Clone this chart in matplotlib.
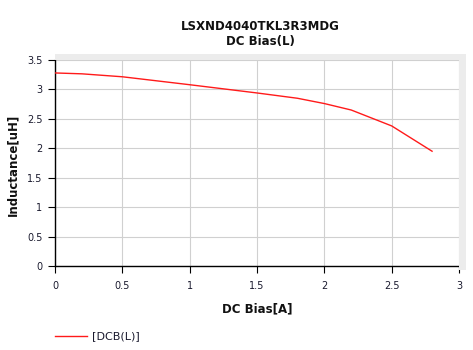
import matplotlib
matplotlib.use("Agg")
import matplotlib.pyplot as plt
from matplotlib.patches import Rectangle
from matplotlib.lines import Line2D

current = [0.0, 0.2, 0.5, 1.0, 1.5, 1.8, 2.0, 2.2, 2.5, 2.8]
inductance = [3.28, 3.265, 3.215, 3.08, 2.94, 2.85, 2.76, 2.65, 2.38, 1.95]
xticks = [0, 0.5, 1, 1.5, 2, 2.5, 3]
xticklabels = ["0", "0.5", "1", "1.5", "2", "2.5", "3"]
yticks = [0, 0.5, 1, 1.5, 2, 2.5, 3, 3.5]
yticklabels = ["0", "0.5", "1", "1.5", "2", "2.5", "3", "3.5"]

plt.rcParams['font.family'] = ['DejaVu Sans']
W, H = 473, 350
fig = plt.figure(figsize=(W/100, H/100), dpi=100)
l, r, b, t = 55/W, 459/W, 1-266/H, 1-60/H
ax = fig.add_axes([l, b, r-l, t-b])

# shadow bands
fig.patches.append(Rectangle((55/W, 1-60/H), (466-55)/W, 6/H, transform=fig.transFigure,
                             facecolor='#ececec', edgecolor='none', zorder=0))
fig.patches.append(Rectangle((459/W, 1-270/H), 7/W, (270-54)/H, transform=fig.transFigure,
                             facecolor='#ececec', edgecolor='none', zorder=0))

ax.plot(current, inductance, color='#ff1a1a', lw=1.0, zorder=3)
ax.set_xlim(0, 3)
ax.set_ylim(0, 3.5)
ax.set_xticks(xticks)
ax.set_xticklabels(xticklabels)
ax.set_yticks(yticks)
ax.set_yticklabels(yticklabels)
ax.grid(True, color='#d0d0d0', lw=0.8)
ax.set_axisbelow(True)
for s in ['top', 'right']:
    ax.spines[s].set_visible(False)
for s in ['left', 'bottom']:
    ax.spines[s].set_color('black')
    ax.spines[s].set_linewidth(1.0)
ax.tick_params(direction='out', length=5, width=0.8, labelsize=7, colors='black',
               labelcolor='#1a1a2e', pad=4)
ax.tick_params(axis='x', pad=6)

ax.set_xlabel("DC Bias[A]", fontsize=8.5, fontweight='bold', labelpad=8, color='#111111')
fig.text(13/W, 1-165/H, "Inductance[uH]", ha='center', va='center', rotation=90,
         fontsize=8.5, fontweight='bold', color='#111111')
fig.text(260/W, 1-27/H, "LSXND4040TKL3R3MDG", ha='center', va='center',
         fontsize=8.5, fontweight='bold', color='#111111')
fig.text(260/W, 1-41/H, "DC Bias(L)", ha='center', va='center',
         fontsize=8.5, fontweight='bold', color='#111111')

# legend
fig.lines.append(Line2D([55/W, 87/W], [1-336/H, 1-336/H], transform=fig.transFigure,
                        color='#ff1a1a', lw=1.0))
fig.text(92/W, 1-336/H, "[DCB(L)]", ha='left', va='center', fontsize=8, color='#1a1a2e')

fig.savefig("out.png", dpi=100)
